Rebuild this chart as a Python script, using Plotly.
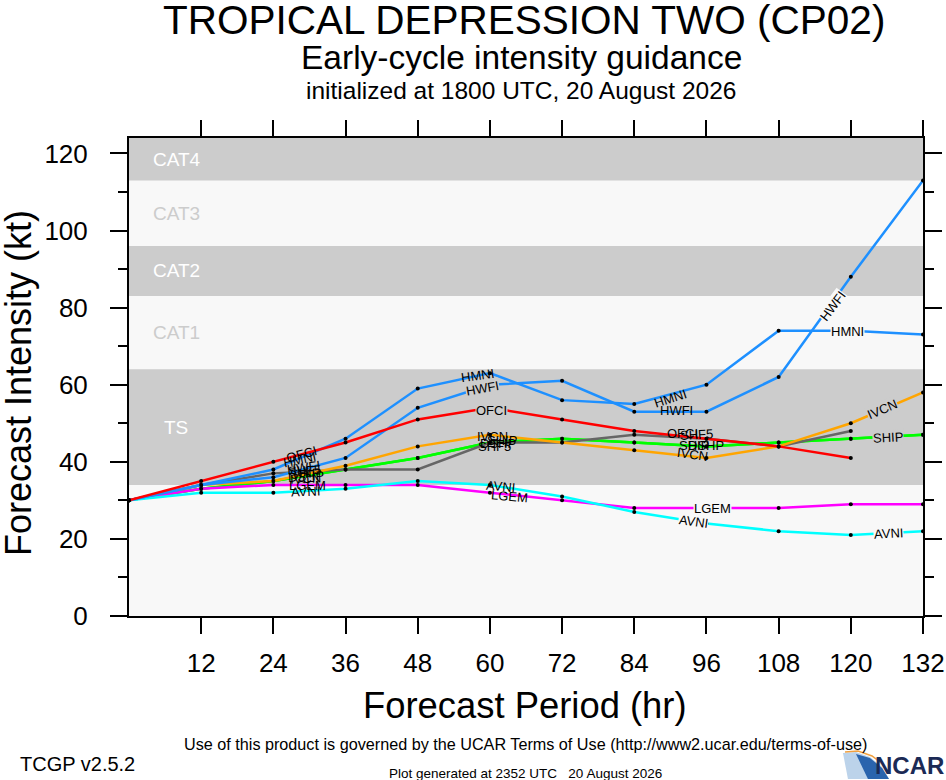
import plotly.graph_objects as go

# forecast hours and model intensities (kt)
hours = [0, 12, 24, 36, 48, 60, 72, 84, 96, 108, 120, 132]

dshp = [30, 33, 35, 38, 41, 45, 46, 45, 44, 45, 46, 47]
ship = [30, 33, 35, 38, 41, 45, 46, 45, 44, 45, 46, 47]
shf5 = [30, 34, 37, 38, 38, 45, 45, 47, 46, 44, 48, None]
ivcn = [30, 34, 35, 39, 44, 47, 45, 43, 41, 44, 50, 58]
lgem = [30, 33, 34, 34, 34, 32, 30, 28, 28, 28, 29, 29]
avni = [30, 32, 32, 33, 35, 34, 31, 27, 24, 22, 21, 22]
hwfi = [30, 34, 36, 41, 54, 60, 61, 53, 53, 62, 88, 113]
hmni = [30, 34, 38, 46, 59, 63, 56, 55, 60, 74, 74, 73]
ofci = [30, 35, 40, 45, 51, 54, 51, 48, 46, 44, 41, None]

# Saffir-Simpson bands (kt)
band_names = ["TS", "CAT1", "CAT2", "CAT3", "CAT4"]
band_lo = [34, 64, 83, 96, 113]
band_hi = [64, 83, 96, 113, 124]

GRAY = "#cccccc"
LIGHT = "#f8f8f8"
FONT = "Liberation Sans, Arial, Helvetica, sans-serif"

models = [
    ("DSHP", dshp, "#00ff00"),
    ("SHIP", ship, "#00ff00"),
    ("SHF5", shf5, "#666666"),
    ("IVCN", ivcn, "#ffa500"),
    ("LGEM", lgem, "#ff00ff"),
    ("AVNI", avni, "#00ffff"),
    ("HWFI", hwfi, "#1e90ff"),
    ("HMNI", hmni, "#1e90ff"),
    ("OFCI", ofci, "#ff0000"),
]

# in-line labels: name, hour, kt, angle, gap in line
labels = [
    ("OFCI", 28.6, 42.0, -15, False), ("HMNI", 28.4, 40.7, -12, False),
    ("HWFI", 29.0, 38.6, -8, False), ("SHF5", 29.1, 37.8, -3, False),
    ("SHIP", 29.3, 37.0, -3, False), ("DSHP", 29.5, 36.3, -3, False),
    ("IVCN", 29.3, 35.7, -3, False), ("LGEM", 29.6, 33.8, 0, False),
    ("AVNI", 29.3, 32.3, -2, False),
    ("HMNI", 58.0, 62.5, -8, False), ("HWFI", 58.7, 58.9, -10, True),
    ("OFCI", 60.2, 53.2, 0, True), ("IVCN", 60.5, 46.5, 0, False),
    ("SHIP", 62.0, 45.6, 0, False), ("SHF5", 60.8, 44.0, 0, False),
    ("DSHP", 61.3, 44.8, 0, False), ("AVNI", 61.8, 33.5, 5, False),
    ("LGEM", 63.3, 30.9, 5, False),
    ("HMNI", 90.0, 56.3, -18, False), ("HWFI", 91.0, 53.4, 0, False),
    ("OFCI", 92.0, 47.3, 0, False), ("SHF5", 94.4, 47.0, -3, False),
    ("SHIP", 94.0, 44.3, 0, False), ("DSHP", 96.0, 44.3, 0, False),
    ("IVCN", 93.7, 41.8, 8, False), ("LGEM", 97.0, 28.0, 0, True),
    ("AVNI", 93.8, 24.6, 8, True),
    ("HWFI", 116.9, 80.4, -53, True), ("HMNI", 119.4, 73.7, 0, True),
    ("IVCN", 125.2, 53.5, -23, True), ("SHIP", 126.2, 46.2, -3, True),
    ("AVNI", 126.2, 21.5, -3, True),
]

fig = go.Figure()

for name, vals, color in models:
    fig.add_trace(go.Scatter(
        x=hours, y=vals, name=name, mode="lines+markers",
        line=dict(color=color, width=2.5),
        marker=dict(color="black", size=4),
        showlegend=False,
    ))

shapes = []
annotations = []
for i, bname in enumerate(band_names):
    gray = i % 2 == 0
    if gray:
        shapes.append(dict(type="rect", xref="paper", yref="y", x0=0, x1=1,
                           y0=band_lo[i], y1=band_hi[i], fillcolor=GRAY,
                           line=dict(width=0), layer="below"))
    mid = (band_lo[i] + band_hi[i]) / 2
    annotations.append(dict(
        text=bname, xref="paper", yref="y",
        x=0.059 if bname == "TS" else 0.028, y=mid,
        xanchor="center" if bname == "TS" else "left", yanchor="middle",
        showarrow=False,
        font=dict(family=FONT, size=19, color="white" if gray else GRAY),
    ))


def band_color(v):
    for i in range(len(band_names)):
        if band_lo[i] <= v < band_hi[i]:
            return GRAY if i % 2 == 0 else LIGHT
    return LIGHT


for name, h, v, ang, gap in labels:
    ann = dict(text=name, x=h, y=v, xref="x", yref="y", showarrow=False,
               textangle=ang, font=dict(family=FONT, size=13, color="black"),
               borderpad=0)
    if gap:
        ann["bgcolor"] = band_color(v)
    annotations.append(ann)

# titles and footer
def ptext(text, x, y, size, xanchor="center", color="black", bold=False):
    if bold:
        text = "<b>" + text + "</b>"
    annotations.append(dict(text=text, x=x, y=y, xref="paper", yref="paper",
                            xanchor=xanchor, yanchor="middle", showarrow=False,
                            font=dict(family=FONT, size=size, color=color)))


ptext("TROPICAL DEPRESSION TWO (CP02)", 0.497, 1.247, 40.5)
ptext("Early-cycle intensity guidance", 0.494, 1.168, 33.5)
ptext("initialized at 1800 UTC, 20 August 2026", 0.494, 1.099, 24.5)
ptext("Forecast Period (hr)", 0.499, -0.188, 36.4)
ptext("Use of this product is governed by the UCAR Terms of Use (http://www2.ucar.edu/terms-of-use)",
      0.4994, -0.268, 16.2)
ptext("TCGP v2.5.2", -0.14, -0.31, 20, xanchor="left")
ptext("Plot generated at 2352 UTC&nbsp;&nbsp;&nbsp;20 August 2026", 0.4994, -0.33, 13.5)
ptext("NCAR", 1.029, -0.312, 24, xanchor="right", color="#1b2a55", bold=True)
annotations.append(dict(text="Forecast Intensity (kt)", x=-0.14, y=0.487,
                        xref="paper", yref="paper", textangle=-90,
                        showarrow=False, xanchor="center", yanchor="middle",
                        font=dict(family=FONT, size=36, color="black")))

# NCAR logo swoosh (paper coords, approximated)
def px(xp, yp):
    return (xp - 129) / 794, (616 - yp) / 478


def path(points, close=True):
    parts = []
    for j, (a, b) in enumerate(points):
        u, w = px(a, b)
        parts.append(("M" if j == 0 else "L") + f"{u:.4f},{w:.4f}")
    return " ".join(parts) + (" Z" if close else "")


shapes.append(dict(type="path", xref="paper", yref="paper",
                   path=path([(843, 753), (856, 752), (870, 757), (882, 767),
                              (889, 779), (848, 779)]),
                   fillcolor="#bcd3ea", line=dict(width=0)))
shapes.append(dict(type="path", xref="paper", yref="paper",
                   path=path([(856, 754), (870, 758), (882, 768), (889, 779),
                              (868, 779)]),
                   fillcolor="#2a64ad", line=dict(width=0)))
shapes.append(dict(type="path", xref="paper", yref="paper",
                   path=path([(845, 752), (858, 751), (872, 756), (884, 765)],
                             close=False),
                   line=dict(color="#f0a040", width=1.5)))

axis_common = dict(
    showline=True, linecolor="black", linewidth=2, mirror="allticks",
    ticks="outside", tickcolor="black", tickwidth=2, showgrid=False,
    zeroline=False, automargin=False,
    tickfont=dict(family=FONT, size=26, color="black"),
)

fig.update_layout(
    width=946, height=780, autosize=False,
    margin=dict(l=129, r=23, t=138, b=164),
    paper_bgcolor="white", plot_bgcolor=LIGHT,
    font=dict(family=FONT),
    shapes=shapes, annotations=annotations,
    xaxis=dict(range=[0, 132], tickvals=hours[1:], ticklen=16,
               ticklabelstandoff=7, **axis_common),
    yaxis=dict(range=[0, 124], tick0=0, dtick=20, ticklen=17,
               ticklabelstandoff=17,
               minor=dict(dtick=10, ticks="outside", ticklen=9,
                          tickcolor="black", tickwidth=2),
               **axis_common),
)

fig.write_html(
    "out.html",
    config={"responsive": False, "displayModeBar": False},
    post_script="document.body.style.margin='0';"
                "document.body.style.overflow='hidden';",
)
